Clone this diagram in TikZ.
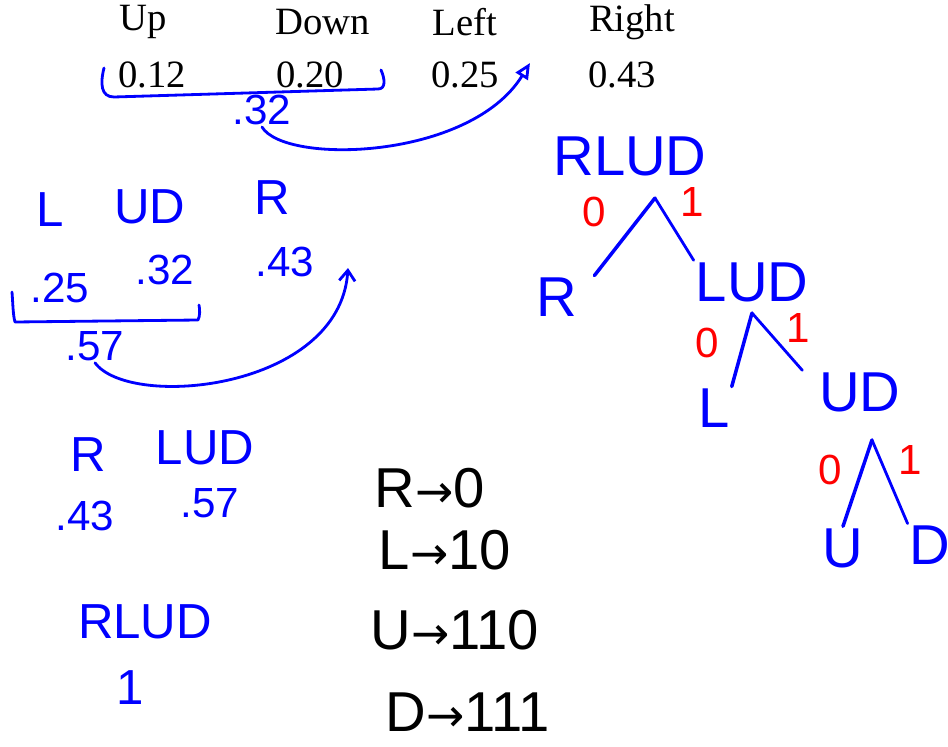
\documentclass[tikz,border=0pt]{standalone}
\usepackage{fontspec}
\setmainfont{Liberation Serif}
\newfontfamily\handfont{Liberation Sans}
\newfontfamily\arrowfont{DejaVu Sans}
\usetikzlibrary{arrows.meta}
\newcommand{\hwbig}{\handfont\fontsize{32}{36}\selectfont}
\newcommand{\hwmid}{\handfont\fontsize{28}{32}\selectfont}
\newcommand{\hwsmall}{\handfont\fontsize{24}{28}\selectfont}
\newcommand{\codeto}{{\arrowfont\fontsize{26}{30}\selectfont →}}

\tikzset{
  printed/.style={font=\fontsize{22}{26}\selectfont, inner sep=1pt},
  ink/.style={text=blue, inner sep=1pt},
  redink/.style={text=red, font=\hwsmall, inner sep=0pt},
  pen/.style={draw=blue, line width=1.6pt, line cap=round, line join=round},
}

\begin{document}
\begin{tikzpicture}[x=0.02cm, y=-0.02cm]
  \useasboundingbox (0,0) rectangle (948,747);

  % printed table
  \node[printed] (up) at (143,22) {Up};
  \node[printed] (down) at (323,22) {Down};
  \node[printed] (left) at (465,22) {Left};
  \node[printed] (right) at (632,22) {Right};
  \node[printed] (p12) at (152,75) {0.12};
  \node[printed] (p20) at (310,75) {0.20};
  \node[printed] (p25) at (465,75) {0.25};
  \node[printed] (p43) at (622,75) {0.43};

  \draw[pen] (104,68) .. controls (100,84) and (101,97) .. (114,97) -- (378,89) .. controls (386,89) and (385,79) .. (381,70);
  \node[ink, font=\hwsmall] (s32) at (262,110) {.32};
  \coordinate (tip1) at (530,63);
  \draw[pen, -{Triangle[open, length=9pt, width=8pt]}] (s32.south) .. controls (285,165) and (470,160) .. (tip1);

  % second step
  \node[ink, font=\hwmid] (qL) at (50,210) {L};
  \node[ink, font=\hwmid] (qUD) at (150,207) {UD};
  \node[ink, font=\hwmid] (qR) at (272,198) {R};
  \node[ink, font=\hwsmall] (q25) at (60,288) {.25};
  \node[ink, font=\hwsmall] (q32) at (165,270) {.32};
  \node[ink, font=\hwsmall] (q43) at (285,262) {.43};

  \draw[pen] (12,292) .. controls (13,305) and (13,315) .. (15,322) -- (198,320) .. controls (200,316) and (200,310) .. (199,305);
  \node[ink, font=\hwsmall] (s57) at (95,346) {.57};
  \coordinate (tip2) at (348,268);
  \draw[pen, -{Straight Barb[length=6pt, width=9pt]}] (s57.south) .. controls (130,410) and (340,390) .. (tip2);

  % third step
  \node[ink, font=\hwmid] (wR) at (88,455) {R};
  \node[ink, font=\hwmid] (wLUD) at (205,448) {LUD};
  \node[ink, font=\hwsmall] (w43) at (85,516) {.43};
  \node[ink, font=\hwsmall] (w57) at (210,503) {.57};
  \node[ink, font=\hwmid] (all) at (145,622) {RLUD};
  \node[ink, font=\hwmid] (one) at (130,688) {1};

  % codes
  \node[font=\hwbig] (codeR) at (430,488) {R\codeto0};
  \node[font=\hwbig] (codeL) at (445,550) {L\codeto10};
  \node[font=\hwbig] (codeU) at (455,630) {U\codeto110};
  \node[font=\hwbig] (codeD) at (468,712) {D\codeto111};

  % tree
  \node[ink, font=\hwbig] (tRLUD) at (630,156) {RLUD};
  \node[ink, font=\hwbig] (tR) at (557,297) {R};
  \node[ink, font=\hwbig] (tLUD) at (752,282) {LUD};
  \node[ink, font=\hwbig] (tL) at (714,408) {L};
  \node[ink, font=\hwbig] (tUD) at (860,392) {UD};
  \node[ink, font=\hwbig] (tU) at (843,548) {U};
  \node[ink, font=\hwbig] (tD) at (930,545) {D};

  \coordinate (a1) at (655,198);
  \coordinate (a2) at (752,313);
  \coordinate (a3) at (872,440);

  \draw[pen, line width=2pt] (a1) -- ([xshift=0.3cm]tR.north east);
  \draw[pen] (a1) -- (tLUD.north west);
  \draw[pen, line width=2pt] (a2) -- (tL.north east);
  \draw[pen] (a2) -- ([xshift=-0.3cm]tUD.north west);
  \draw[pen, line width=2pt] (a3) -- (tU.north);
  \draw[pen] (a3) -- (tD.north west);

  \node[redink] (b0a) at (594,212) {0};
  \node[redink] (b1a) at (692,202) {1};
  \node[redink] (b0b) at (707,343) {0};
  \node[redink] (b1b) at (798,328) {1};
  \node[redink] (b0c) at (830,470) {0};
  \node[redink] (b1c) at (910,460) {1};
\end{tikzpicture}
\end{document}
